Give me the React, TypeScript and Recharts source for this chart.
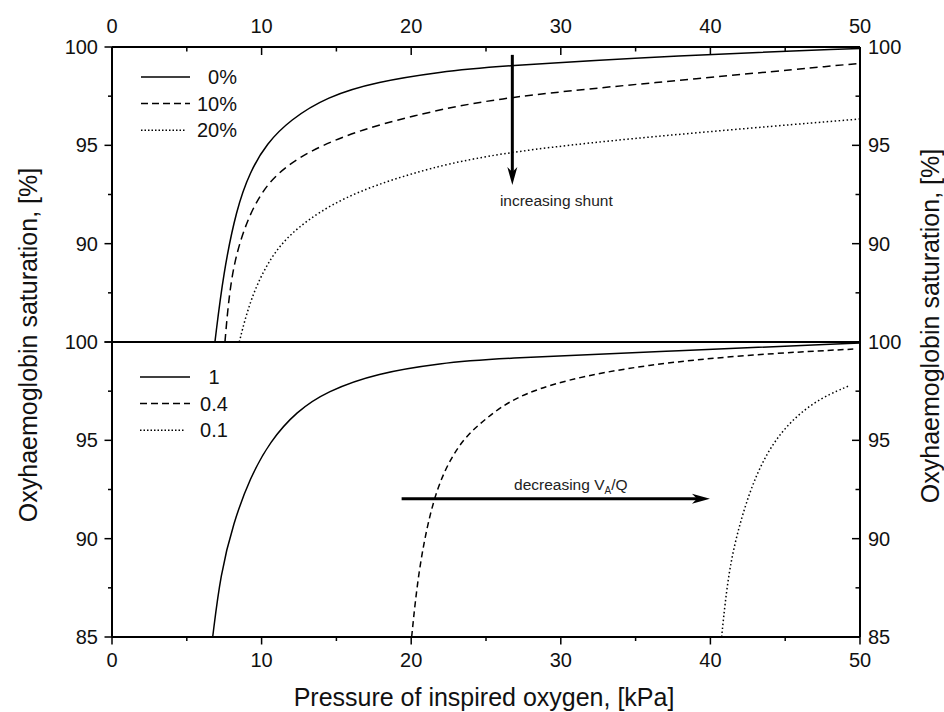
import React from 'react';
import { LineChart, Line, XAxis, YAxis, ReferenceLine, Legend } from 'recharts';

const FONT = '"Liberation Sans", Arial, Helvetica, sans-serif';

// axis ticks (minor ticks included, labels only on majors)
const xTicks = [0, 5, 10, 15, 20, 25, 30, 35, 40, 45, 50];
const yTicks = [85, 87.5, 90, 92.5, 95, 97.5, 100];

// top panel: shunt fraction, [kPa, %]
const shuntNames = ['0%', '10%', '20%'];
const shunt0 = [[6.88, 85], [7.44, 88.5], [8.33, 91.8], [9.22, 93.65], [10.34, 95.1], [11.9, 96.29], [14.35, 97.47], [17.7, 98.24], [22.1, 98.75], [25.3, 99.0], [38, 99.59], [50, 99.93]];
const shunt10 = [[7.55, 85], [7.95, 88.5], [8.85, 90.86], [9.8, 92.39], [11.0, 93.58], [13.24, 94.76], [16.58, 95.78], [19.9, 96.46], [25.3, 97.39], [35.7, 98.15], [50, 99.17]];
const shunt20 = [[8.51, 85], [9.22, 87.14], [10.56, 89.34], [12.35, 90.86], [15.46, 92.39], [19.9, 93.58], [25.3, 94.59], [35.7, 95.44], [50, 96.34]];

// bottom panel: VA/Q ratio, [kPa, %]
const vqNames = ['1', '0.4', '0.1'];
const vq1 = [[6.73, 85], [7.25, 88.2], [8.11, 90.8], [9.22, 93.09], [10.56, 94.95], [12.35, 96.48], [14.35, 97.49], [17.7, 98.42], [22.1, 98.93], [25.3, 99.15], [38, 99.56], [50, 99.95]];
const vq04 = [[20.03, 85], [20.48, 88.34], [21.26, 91.39], [22.15, 93.43], [23.48, 95.12], [25.05, 96.14], [26.8, 97.15], [30.2, 98.08], [35.7, 98.85], [42.4, 99.35], [49.55, 99.64]];
const vq01 = [[40.75, 85], [41.2, 88.34], [41.98, 90.88], [43.1, 93.43], [44.65, 95.46], [46.88, 96.99], [49.2, 97.75]];

const topDashes = ['', '8 5', '1.5 2.5'];
const bottomDashes = ['', '6 4', '1.5 2.5'];
const legendDashes = ['', '7 4', '1.5 2'];

const pts = (arr: number[][]) => arr.map(([x, y]) => ({ x, y }));

const tickText = { fontFamily: FONT, fontSize: 20, fill: '#111' };

const TopTick = (props: any) => {
  const { x, y, payload } = props;
  const major = payload.value % 10 === 0;
  return (
    <g>
      <line x1={x} x2={x} y1={y} y2={y + (major ? 8 : 4.5)} stroke="#000" strokeWidth={1.5} />
      {major && (
        <text x={x} y={y - 21} textAnchor="middle" dominantBaseline="central" {...tickText}>
          {payload.value}
        </text>
      )}
    </g>
  );
};

const BottomTick = (props: any) => {
  const { x, y, payload } = props;
  const major = payload.value % 10 === 0;
  return (
    <g>
      <line x1={x} x2={x} y1={y} y2={y + (major ? 7.5 : 4)} stroke="#000" strokeWidth={1.5} />
      {major && (
        <text x={x} y={y + 23} textAnchor="middle" dominantBaseline="central" {...tickText}>
          {payload.value}
        </text>
      )}
    </g>
  );
};

const makeLeftTick = (skip85: boolean) => (props: any) => {
  const { x, y, payload } = props;
  const major = payload.value % 5 === 0;
  const show = major && !(skip85 && payload.value === 85);
  return (
    <g>
      <line x1={x - (major ? 7.5 : 4)} x2={x} y1={y} y2={y} stroke="#000" strokeWidth={1.5} />
      {show && (
        <text x={x - 14} y={y} textAnchor="end" dominantBaseline="central" {...tickText}>
          {payload.value}
        </text>
      )}
    </g>
  );
};

const makeRightTick = (skip85: boolean) => (props: any) => {
  const { x, y, payload } = props;
  const major = payload.value % 5 === 0;
  const show = major && !(skip85 && payload.value === 85);
  return (
    <g>
      <line x1={x - (major ? 8 : 4.5)} x2={x} y1={y} y2={y} stroke="#000" strokeWidth={1.5} />
      {show && (
        <text x={x + 8} y={y} textAnchor="start" dominantBaseline="central" {...tickText}>
          {payload.value}
        </text>
      )}
    </g>
  );
};

const legendBox = (names: string[], anchor: 'end' | 'middle', labelX: number, lineEnds: number[]) => () => (
  <svg width={120} height={90}>
    {names.map((n, i) => (
      <g key={n}>
        <line x1={10} x2={lineEnds[i]} y1={16 + i * 26.6} y2={16 + i * 26.6} stroke="#000" strokeWidth={1.5} strokeDasharray={legendDashes[i] || undefined} />
        <text x={labelX} y={16 + i * 26.6} textAnchor={anchor} dominantBaseline="central" {...tickText}>
          {n}
        </text>
      </g>
    ))}
  </svg>
);

const downArrow = (p: any) => {
  const { x1, y1, x2, y2 } = p;
  return (
    <g>
      <line x1={x1} y1={y1} x2={x2} y2={y2 - 10} stroke="#000" strokeWidth={3} />
      <path d={`M${x2},${y2} L${x2 - 5},${y2 - 18} L${x2},${y2 - 13} L${x2 + 5},${y2 - 18} Z`} fill="#000" />
      <text x={x2 + 44} y={y2 + 20.5} textAnchor="middle" fontFamily={FONT} fontSize={15.5} fill="#222">
        increasing shunt
      </text>
    </g>
  );
};

const rightArrow = (p: any) => {
  const { x1, y1, x2, y2 } = p;
  return (
    <g>
      <line x1={x1} y1={y1} x2={x2 - 10} y2={y2} stroke="#000" strokeWidth={3} />
      <path d={`M${x2},${y2} L${x2 - 18},${y2 - 5} L${x2 - 13},${y2} L${x2 - 18},${y2 + 5} Z`} fill="#000" />
      <text x={(x1 + x2) / 2 + 15} y={y1 - 9} textAnchor="middle" fontFamily={FONT} fontSize={15.5} fill="#222">
        decreasing V<tspan fontSize={10} dy={4}>A</tspan>
        <tspan dy={-4}>/Q</tspan>
      </text>
    </g>
  );
};

const axisStroke = { stroke: '#000', strokeWidth: 2 };

export default function App() {
  const top = [shunt0, shunt10, shunt20];
  const bottom = [vq1, vq04, vq01];
  return (
    <div style={{ position: 'fixed', left: 0, top: 0, width: 944, height: 712, background: '#fff', fontFamily: FONT }}>
      <div style={{ position: 'absolute', left: 0, top: 0 }}>
        <LineChart width={944} height={345} margin={{ top: 17, right: 34, bottom: 3, left: 62 }}>
          <XAxis type="number" dataKey="x" orientation="top" height={30} domain={[0, 50]} ticks={xTicks} interval={0}
            axisLine={axisStroke} tickLine={false} tickSize={0} tickMargin={0} tick={<TopTick />} allowDataOverflow />
          <YAxis yAxisId="left" type="number" width={50} domain={[85, 100]} ticks={yTicks} interval={0}
            axisLine={axisStroke} tickLine={false} tickSize={0} tickMargin={0} tick={makeLeftTick(true)} allowDataOverflow />
          <YAxis yAxisId="right" orientation="right" type="number" width={50} domain={[85, 100]} ticks={yTicks} interval={0}
            axisLine={axisStroke} tickLine={false} tickSize={0} tickMargin={0} tick={makeRightTick(true)} allowDataOverflow />
          {top.map((s, i) => (
            <Line key={shuntNames[i]} yAxisId="left" data={pts(s)} dataKey="y" name={shuntNames[i]} type="basis"
              stroke="#000" strokeWidth={1.5} strokeDasharray={topDashes[i] || undefined} dot={false} isAnimationActive={false} />
          ))}
          <ReferenceLine yAxisId="left" segment={[{ x: 26.76, y: 99.6 }, { x: 26.76, y: 92.98 }]} shape={downArrow} />
          <Legend layout="vertical" align="center" verticalAlign="middle"
            wrapperStyle={{ left: 131, top: 61, width: 120, height: 90 }}
            content={legendBox(shuntNames, 'end', 106, [59, 59, 55])} />
        </LineChart>
      </div>
      <div style={{ position: 'absolute', left: 0, top: 312 }}>
        <LineChart width={944} height={400} margin={{ top: 30, right: 34, bottom: 45, left: 62 }}>
          <XAxis type="number" dataKey="x" orientation="bottom" height={30} domain={[0, 50]} ticks={xTicks} interval={0}
            axisLine={axisStroke} tickLine={false} tickSize={0} tickMargin={0} tick={<BottomTick />} allowDataOverflow />
          <YAxis yAxisId="left" type="number" width={50} domain={[85, 100]} ticks={yTicks} interval={0}
            axisLine={axisStroke} tickLine={false} tickSize={0} tickMargin={0} tick={makeLeftTick(false)} allowDataOverflow />
          <YAxis yAxisId="right" orientation="right" type="number" width={50} domain={[85, 100]} ticks={yTicks} interval={0}
            axisLine={axisStroke} tickLine={false} tickSize={0} tickMargin={0} tick={makeRightTick(false)} allowDataOverflow />
          <ReferenceLine yAxisId="left" y={100} stroke="#000" strokeWidth={2} />
          {bottom.map((s, i) => (
            <Line key={vqNames[i]} yAxisId="left" data={pts(s)} dataKey="y" name={vqNames[i]} type="basis"
              stroke="#000" strokeWidth={1.5} strokeDasharray={bottomDashes[i] || undefined} dot={false} isAnimationActive={false} />
          ))}
          <ReferenceLine yAxisId="left" segment={[{ x: 19.36, y: 92.03 }, { x: 39.97, y: 92.03 }]} shape={rightArrow} />
          <Legend layout="vertical" align="center" verticalAlign="middle"
            wrapperStyle={{ left: 130, top: 49, width: 120, height: 90 }}
            content={legendBox(vqNames, 'middle', 84, [60, 60, 54])} />
        </LineChart>
      </div>
      <svg width={944} height={712} style={{ position: 'absolute', left: 0, top: 0, pointerEvents: 'none' }}>
        <text transform="translate(28,345) rotate(-90)" textAnchor="middle" dominantBaseline="central" fontFamily={FONT} fontSize={25} fill="#111">
          Oxyhaemoglobin saturation, [%]
        </text>
        <text transform="translate(930,326) rotate(-90)" textAnchor="middle" dominantBaseline="central" fontFamily={FONT} fontSize={25} fill="#111">
          Oxyhaemoglobin saturation, [%]
        </text>
        <text x={484} y={706} textAnchor="middle" fontFamily={FONT} fontSize={25} fill="#111">
          Pressure of inspired oxygen, [kPa]
        </text>
      </svg>
    </div>
  );
}
